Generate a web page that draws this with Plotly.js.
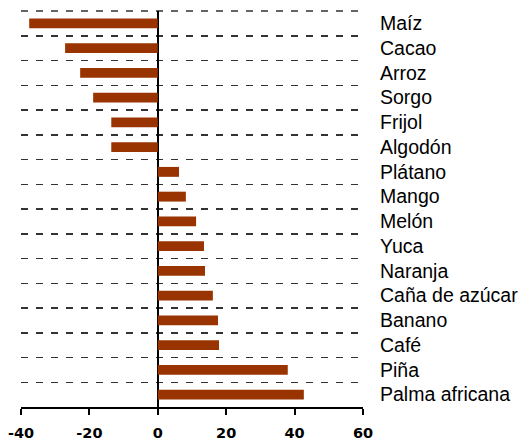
<!DOCTYPE html>
<html>
<head>
<meta charset="utf-8">
<script src="https://cdn.plot.ly/plotly-3.0.1.min.js"></script>
<style>
html,body{margin:0;padding:0;background:#fff;}
#chart{width:531px;height:443px;}
</style>
</head>
<body>
<div id="chart"></div>
<script>
const categories = ["Maíz","Cacao","Arroz","Sorgo","Frijol","Algodón","Plátano","Mango","Melón","Yuca","Naranja","Caña de azúcar","Banano","Café","Piña","Palma africana"];
const values = [-37.6,-27.1,-22.7,-18.9,-13.6,-13.6,6.2,8.2,11.2,13.5,13.8,16.1,17.6,17.9,38.0,42.7];
const xTicks = [-40,-20,0,20,40,60];

const trace = {
  type: 'bar',
  orientation: 'h',
  y: categories,
  x: values,
  width: 0.4,
  marker: {color: '#993300', line: {width: 0}},
  hoverinfo: 'skip'
};

const gridStyle = {color: '#333', width: 1.5, dash: '7px,8px'};

const layout = {
  width: 531, height: 443,
  margin: {l: 20.7, r: 167.7, t: 11, b: 36.3, pad: 0},
  paper_bgcolor: '#fff', plot_bgcolor: '#fff',
  showlegend: false,
  xaxis: {
    range: [-40, 60],
    tickvals: xTicks,
    ticktext: xTicks.map(String),
    showgrid: false,
    zeroline: true, zerolinecolor: '#000', zerolinewidth: 2,
    showline: true, linecolor: '#000', linewidth: 2,
    ticks: 'outside', ticklen: 6, tickwidth: 2, tickcolor: '#000',
    ticklabelstandoff: 6,
    tickfont: {family: 'DejaVu Sans, sans-serif', size: 14.5, color: '#000', weight: 'bold'},
    fixedrange: true
  },
  yaxis: {
    type: 'category',
    categoryorder: 'array', categoryarray: categories,
    autorange: 'reversed',
    side: 'right',
    tickson: 'boundaries',
    showgrid: true, gridcolor: gridStyle.color, gridwidth: gridStyle.width, griddash: gridStyle.dash,
    ticks: '', ticklabelstandoff: 16,
    showline: false, zeroline: false,
    tickfont: {family: 'Liberation Sans, Arial, sans-serif', size: 19.5, color: '#000'},
    fixedrange: true
  },
  shapes: [{
    type: 'line', xref: 'paper', yref: 'paper', x0: 0, x1: 1, y0: 1, y1: 1,
    line: gridStyle, layer: 'below'
  }]
};

Plotly.newPlot('chart', [trace], layout, {staticPlot: true, displayModeBar: false});
</script>
</body>
</html>
